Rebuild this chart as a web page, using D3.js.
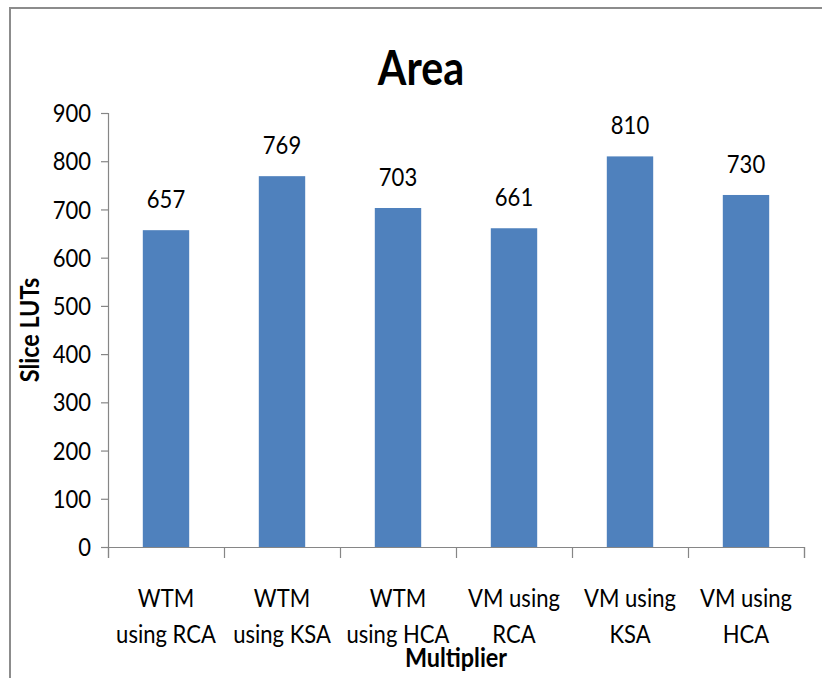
<!DOCTYPE html>
<html>
<head>
<meta charset="utf-8">
<script src="https://cdn.jsdelivr.net/npm/d3@7"></script>
<style>
  html, body { margin: 0; padding: 0; background: #fff; }
  svg { display: block; }
  text { font-family: Lato, "Open Sans", sans-serif; fill: #000; }
</style>
</head>
<body>
<svg id="chart" width="822" height="678"></svg>
<script>
// Slice LUT usage per multiplier design
const categories = [
  ["WTM", "using RCA"],
  ["WTM", "using KSA"],
  ["WTM", "using HCA"],
  ["VM using", "RCA"],
  ["VM using", "KSA"],
  ["VM using", "HCA"]
];
const values = [657, 769, 703, 661, 810, 730];
const yTicks = [0, 100, 200, 300, 400, 500, 600, 700, 800, 900];
const chartTitle = "Area";
const xTitle = "Multiplier";
const yTitle = "Slice LUTs";

const W = 822, H = 678;
const margin = { left: 108, right: 18, top: 113, bottom: 131 };
const plotW = W - margin.left - margin.right;
const plotH = H - margin.top - margin.bottom;
const narrow = 0.9; // condensed look for all labels

const svg = d3.select("#chart");

// outer frame (top and left edges)
svg.append("path")
  .attr("d", `M10,${H} L10,8 L${W},8`)
  .attr("fill", "none")
  .attr("stroke", "#8c8c8c")
  .attr("stroke-width", 2);

const x = d3.scaleBand()
  .domain(d3.range(categories.length))
  .range([margin.left, margin.left + plotW])
  .paddingInner(0.6)
  .paddingOuter(0.3);

const y = d3.scaleLinear()
  .domain([0, 900])
  .range([margin.top + plotH, margin.top]);

// bars
svg.append("g").selectAll("rect")
  .data(values)
  .join("rect")
  .attr("x", (d, i) => x(i))
  .attr("y", d => y(d))
  .attr("width", x.bandwidth())
  .attr("height", d => y(0) - y(d))
  .attr("fill", "#4f81bd");

// y axis
const yAxis = svg.append("g")
  .attr("transform", `translate(${margin.left},0)`)
  .call(d3.axisLeft(y).tickValues(yTicks).tickSize(7).tickPadding(10).tickFormat(d3.format("d")));
yAxis.select(".domain").attr("stroke", "#868686").attr("stroke-width", 1.2);
yAxis.selectAll(".tick line").attr("stroke", "#868686").attr("stroke-width", 1.2);
yAxis.selectAll(".tick text")
  .style("font-size", "24.5px")
  .attr("dy", "0.35em")
  .attr("transform", function () {
    const t = d3.select(this);
    return `translate(${t.attr("x")},0) scale(${narrow},1) translate(${-t.attr("x")},0)`;
  });

// x axis: boundary ticks between categories
const xb = d3.scaleLinear().domain([0, categories.length]).range([margin.left, margin.left + plotW]);
const xAxis = svg.append("g")
  .attr("transform", `translate(0,${y(0)})`)
  .call(d3.axisBottom(xb).tickValues(d3.range(categories.length + 1)).tickSize(11).tickFormat(""));
xAxis.select(".domain").attr("stroke", "#868686").attr("stroke-width", 1.2);
xAxis.selectAll(".tick line").attr("stroke", "#868686").attr("stroke-width", 1.2);

// category labels (two lines each)
const catG = svg.append("g");
categories.forEach((lines, i) => {
  const cx = xb(i + 0.5);
  const t = catG.append("text")
    .attr("text-anchor", "middle")
    .attr("transform", `translate(${cx},0) scale(${narrow},1)`)
    .style("font-size", "24.5px");
  lines.forEach((ln, k) => {
    t.append("tspan").attr("x", 0).attr("y", 607 + k * 36).text(ln);
  });
});

// value labels
svg.append("g").selectAll("text")
  .data(values)
  .join("text")
  .attr("text-anchor", "middle")
  .attr("transform", (d, i) => `translate(${x(i) + x.bandwidth() / 2},${y(d) - 22}) scale(${narrow},1)`)
  .style("font-size", "24.5px")
  .text(d => d);

// chart title
svg.append("text")
  .attr("text-anchor", "middle")
  .attr("transform", `translate(421,85) scale(0.86,1)`)
  .style("font-size", "48px")
  .style("font-weight", "bold")
  .text(chartTitle);

// axis titles
svg.append("text")
  .attr("text-anchor", "middle")
  .attr("transform", `translate(${xb(categories.length / 2)},667) scale(${narrow},1)`)
  .style("font-size", "26px")
  .style("font-weight", "bold")
  .text(xTitle);

svg.append("text")
  .attr("text-anchor", "middle")
  .attr("transform", `translate(39,${y(450)}) rotate(-90) scale(${narrow},1)`)
  .style("font-size", "26px")
  .style("font-weight", "bold")
  .text(yTitle);
</script>
</body>
</html>
